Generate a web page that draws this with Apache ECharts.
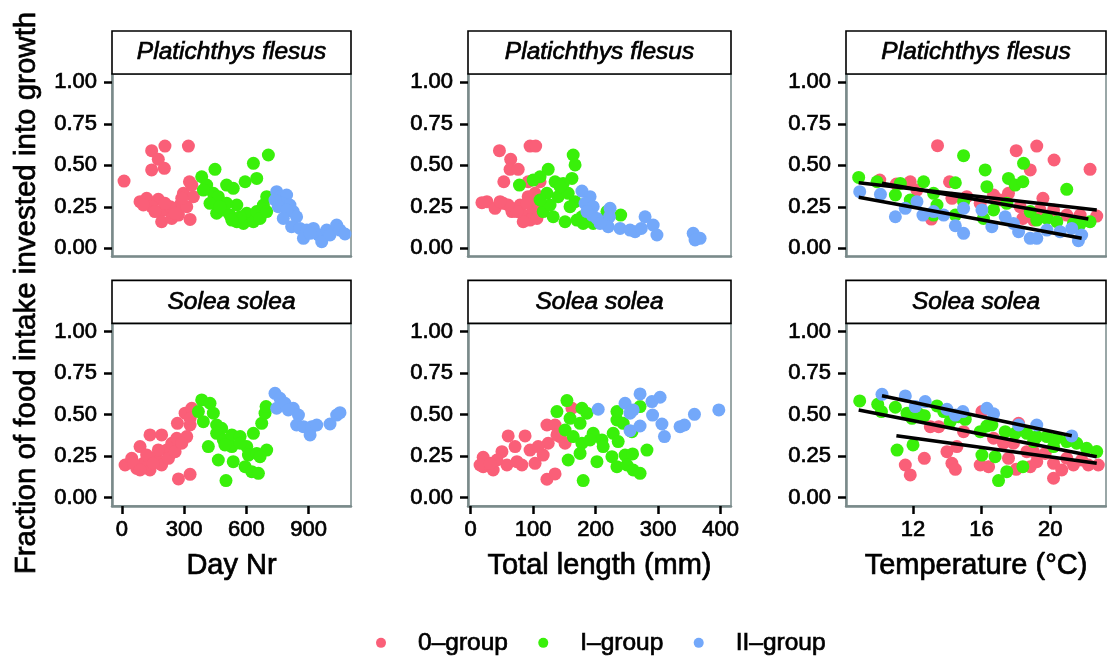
<!DOCTYPE html>
<html>
<head>
<meta charset="utf-8">
<script src="https://cdn.jsdelivr.net/npm/echarts@6/dist/echarts.min.js"></script>
<style>
html,body{margin:0;padding:0;background:#fff;}
#chart{width:1107px;height:657px;}
</style>
</head>
<body>
<div id="chart"></div>
<script>
// ---------------- DATA ----------------
const groups = ['0–group', 'I–group', 'II–group'];
const species = ['Platichthys flesus', 'Solea solea'];
const xTitles = ['Day Nr', 'Total length (mm)', 'Temperature (°C)'];
const yTitle = 'Fraction of food intake invested into growth';
const yTicks = [0, 0.25, 0.5, 0.75, 1];
const dayTicks = [0, 300, 600, 900];
const lengthTicks = [0, 100, 200, 300, 400];
const tempTicks = [12, 16, 20];

// Platichthys flesus – Day Nr
const pfDay0 = [[11,0.405],[144,0.588],[208,0.616],[321,0.616],[176,0.536],[144,0.472],[205,0.482],[326,0.401],[297,0.331],[88,0.281],[120,0.301],[176,0.295],[144,0.251],[184,0.221],[217,0.231],[192,0.160],[241,0.180],[281,0.261],[273,0.200],[329,0.174],[313,0.251],[345,0.311],[104,0.261],[160,0.221],[233,0.251],[257,0.211],[208,0.271],[289,0.301],[337,0.381]];
const pfDay1 = [[385,0.431],[449,0.476],[409,0.381],[441,0.331],[393,0.351],[465,0.311],[505,0.381],[537,0.361],[457,0.211],[489,0.231],[521,0.200],[554,0.261],[554,0.160],[586,0.150],[602,0.211],[634,0.160],[650,0.221],[682,0.261],[698,0.311],[706,0.562],[634,0.512],[594,0.401],[650,0.421],[570,0.190],[505,0.271],[425,0.271],[666,0.180],[698,0.221],[473,0.251],[530,0.170]];
const pfDay2 = [[746,0.341],[762,0.311],[794,0.321],[770,0.271],[810,0.261],[826,0.221],[842,0.190],[818,0.130],[858,0.120],[891,0.110],[875,0.060],[923,0.120],[947,0.080],[963,0.040],[987,0.110],[1003,0.080],[1035,0.140],[1051,0.110],[1075,0.086],[738,0.291],[754,0.251],[794,0.231],[778,0.180],[907,0.090]];

// Platichthys flesus – Total length
const pfLen0 = [[46,0.588],[64,0.536],[95,0.616],[104,0.616],[63,0.476],[76,0.476],[53,0.401],[92,0.401],[111,0.401],[26,0.281],[18,0.275],[39,0.241],[52,0.271],[66,0.221],[79,0.261],[84,0.200],[92,0.311],[100,0.231],[95,0.170],[84,0.160],[106,0.180],[74,0.221],[60,0.261],[108,0.271],[103,0.331],[90,0.271],[47,0.281]];
const pfLen1 = [[164,0.562],[167,0.502],[124,0.476],[78,0.381],[111,0.431],[100,0.411],[135,0.401],[162,0.421],[148,0.391],[122,0.331],[140,0.311],[156,0.331],[167,0.281],[116,0.221],[132,0.190],[151,0.160],[170,0.170],[180,0.150],[196,0.150],[215,0.180],[240,0.200],[218,0.221],[127,0.261],[159,0.251],[143,0.371],[111,0.291],[178,0.190]];
const pfLen2 = [[178,0.345],[191,0.311],[183,0.271],[196,0.251],[194,0.200],[202,0.180],[223,0.241],[222,0.190],[220,0.130],[239,0.120],[255,0.110],[263,0.100],[279,0.190],[273,0.120],[292,0.140],[298,0.080],[356,0.090],[367,0.060],[359,0.050],[186,0.221],[207,0.150]];

// Platichthys flesus – Temperature
const pfTemp0 = [[13.43,0.618],[10.06,0.411],[11.03,0.387],[11.84,0.401],[14.13,0.401],[14.27,0.301],[13.07,0.176],[15.92,0.271],[16.70,0.321],[17.57,0.331],[18.02,0.588],[18.84,0.472],[19.22,0.616],[20.23,0.532],[19.58,0.301],[18.41,0.180],[19.03,0.170],[20.2,0.231],[20.97,0.200],[21.75,0.200],[22.33,0.476],[22.72,0.194],[17.08,0.291],[18.25,0.251],[19.41,0.231],[15.14,0.311],[12.23,0.351]];
const pfTemp1 = [[8.83,0.427],[9.90,0.401],[10.97,0.321],[12.62,0.401],[11.84,0.291],[13.20,0.331],[14.95,0.558],[14.47,0.395],[13.40,0.261],[13.20,0.200],[14.47,0.200],[14.95,0.281],[16.21,0.472],[16.31,0.371],[16.11,0.180],[16.70,0.231],[17.57,0.421],[17.96,0.381],[18.45,0.512],[18.41,0.401],[18.84,0.221],[19.81,0.180],[20.39,0.160],[20.97,0.355],[21.36,0.150],[21.75,0.146],[22.33,0.160],[11.26,0.391],[17.47,0.271],[19.22,0.170]];
const pfTemp2 = [[8.89,0.341],[10.10,0.325],[10.97,0.190],[11.55,0.241],[12.23,0.281],[12.58,0.200],[13.79,0.200],[14.47,0.136],[14.95,0.090],[14.95,0.241],[16.60,0.130],[17.38,0.190],[18.16,0.100],[18.84,0.060],[19.22,0.060],[19.81,0.110],[20.58,0.100],[21.26,0.120],[21.65,0.046],[21.84,0.080],[16.02,0.231],[17.86,0.150],[13.20,0.221]];
const pfTempFits = [[[8.83,0.395],[22.72,0.231]],[[10.19,0.392],[22.23,0.177]],[[8.83,0.307],[21.84,0.060]]];

// Solea solea – Day Nr
const ssDay0 = [[16,0.197],[48,0.237],[88,0.308],[72,0.177],[104,0.207],[136,0.378],[136,0.167],[168,0.247],[192,0.378],[192,0.197],[217,0.288],[241,0.328],[265,0.358],[268,0.448],[305,0.509],[337,0.539],[329,0.438],[313,0.368],[273,0.113],[329,0.141],[56,0.207],[120,0.257],[152,0.207],[225,0.237],[257,0.277],[289,0.328],[176,0.288],[329,0.478],[88,0.167]];
const ssDay1 = [[385,0.589],[425,0.569],[369,0.519],[441,0.509],[393,0.458],[457,0.438],[481,0.418],[457,0.388],[489,0.348],[530,0.378],[530,0.308],[570,0.368],[602,0.308],[634,0.388],[610,0.257],[650,0.267],[674,0.448],[690,0.509],[695,0.549],[698,0.287],[417,0.308],[465,0.227],[537,0.217],[502,0.103],[594,0.187],[626,0.157],[658,0.147],[666,0.247],[570,0.328],[497,0.318]];
const ssDay2 = [[738,0.629],[762,0.599],[746,0.539],[786,0.569],[826,0.539],[851,0.498],[842,0.438],[875,0.428],[907,0.378],[915,0.428],[939,0.438],[1003,0.444],[1035,0.498],[1051,0.512],[802,0.529]];

// Solea solea – Total length
const ssLen0 = [[20,0.243],[20,0.187],[36,0.167],[60,0.372],[87,0.372],[71,0.308],[50,0.277],[58,0.197],[82,0.197],[95,0.287],[103,0.207],[116,0.257],[124,0.328],[122,0.438],[135,0.438],[143,0.368],[151,0.328],[122,0.111],[135,0.143],[162,0.539],[15,0.197],[42,0.227],[74,0.217],[108,0.308],[138,0.378],[31,0.207]];
const ssLen1 = [[154,0.585],[138,0.519],[178,0.539],[186,0.509],[159,0.478],[175,0.448],[151,0.408],[164,0.368],[178,0.328],[196,0.388],[210,0.348],[228,0.388],[234,0.468],[244,0.448],[234,0.519],[271,0.549],[258,0.398],[236,0.338],[156,0.227],[175,0.267],[202,0.217],[180,0.103],[226,0.247],[234,0.187],[247,0.257],[259,0.264],[250,0.197],[260,0.167],[271,0.147],[282,0.287],[212,0.308],[191,0.348]];
const ssLen2 = [[204,0.533],[247,0.569],[260,0.529],[255,0.509],[271,0.625],[290,0.579],[303,0.605],[291,0.498],[255,0.404],[271,0.432],[306,0.444],[310,0.368],[335,0.428],[342,0.438],[358,0.502],[397,0.529]];

// Solea solea – Temperature
const ssTemp0 = [[11.55,0.197],[11.84,0.137],[12.66,0.237],[13.01,0.428],[13.50,0.428],[13.98,0.277],[14.27,0.207],[14.47,0.171],[14.56,0.308],[14.95,0.398],[16.02,0.519],[15.92,0.197],[16.41,0.187],[16.70,0.358],[17.28,0.328],[17.57,0.237],[18.02,0.171],[18.16,0.448],[18.64,0.277],[18.84,0.187],[19.22,0.217],[19.71,0.267],[20.2,0.117],[20.2,0.207],[20.68,0.167],[20.97,0.237],[21.36,0.197],[21.84,0.227],[22.23,0.197],[22.81,0.197],[17.86,0.328],[19.03,0.277]];
const ssTemp1 = [[8.89,0.583],[9.94,0.563],[10.16,0.519],[10.97,0.545],[11.65,0.509],[11.94,0.478],[12.33,0.505],[12.66,0.494],[13.40,0.553],[13.79,0.519],[14.17,0.458],[14.66,0.488],[15.05,0.472],[15.92,0.398],[16.31,0.432],[16.60,0.438],[17.38,0.398],[17.96,0.388],[18.64,0.388],[19.22,0.368],[19.81,0.368],[20.39,0.358],[20.97,0.338],[21.55,0.328],[22.13,0.298],[22.72,0.278],[11.07,0.287],[12.0,0.318],[16.02,0.257],[16.79,0.247],[17.47,0.157],[16.99,0.103],[18.41,0.187],[19.03,0.338],[20.2,0.308]];
const ssTemp2 = [[10.19,0.623],[11.55,0.613],[12.13,0.549],[12.71,0.579],[13.98,0.533],[14.91,0.519],[16.31,0.539],[16.70,0.505],[18.16,0.438],[19.22,0.438],[21.26,0.372],[14.47,0.498]];
const ssTempFits = [[[10.19,0.614],[21.26,0.373]],[[8.83,0.528],[22.72,0.247]],[[11.03,0.373],[22.72,0.207]]];

// ---------------- CHART ----------------
const colors = ['#fa5f78', '#39f00a', '#73a8fa'];
const FONT = 'Liberation Sans, Arial, Helvetica, sans-serif';
const GRAY = '#7a8a8a';
const BOLDEN = {textBorderColor: '#000', textBorderWidth: 0.7};

const colLeft = [112, 468, 846];
const colRight = [351, 731, 1106];
const rowTop = [74, 323.4];
const panelH = 182.6;
const stripH = 43;
const xRanges = [[-47, 1104], [-4.3, 416.5], [8.09, 23.26]];
const xTickSets = [dayTicks, lengthTicks, tempTicks];

const panels = [
  [pfDay0, pfDay1, pfDay2], [pfLen0, pfLen1, pfLen2], [pfTemp0, pfTemp1, pfTemp2],
  [ssDay0, ssDay1, ssDay2], [ssLen0, ssLen1, ssLen2], [ssTemp0, ssTemp1, ssTemp2]
];
const fits = {2: pfTempFits, 5: ssTempFits};

const grid = [], xAxis = [], yAxis = [], series = [], graphic = [];
for (let r = 0; r < 2; r++) {
  for (let c = 0; c < 3; c++) {
    const i = r * 3 + c;
    grid.push({
      left: colLeft[c], top: rowTop[r], width: colRight[c] - colLeft[c], height: panelH,
      show: true, borderColor: GRAY, borderWidth: 1.5, backgroundColor: '#fff'
    });
    const bottom = r === 1;
    xAxis.push({
      type: 'value', gridIndex: i, min: xRanges[c][0], max: xRanges[c][1],
      name: bottom ? xTitles[c] : '', nameLocation: 'middle', nameGap: 45,
      nameTextStyle: Object.assign({fontFamily: FONT, fontSize: 29, color: '#000'}, BOLDEN),
      axisLine: {show: true, onZero: false, lineStyle: {color: GRAY, width: 2.5}},
      axisTick: {show: bottom, length: 8, lineStyle: {color: '#000', width: 2.5}, customValues: xTickSets[c]},
      axisLabel: Object.assign({show: bottom, customValues: xTickSets[c], fontFamily: FONT, fontSize: 22, color: '#000', margin: 13}, BOLDEN),
      splitLine: {show: false}
    });
    yAxis.push({
      type: 'value', gridIndex: i, min: -0.05, max: 1.05,
      axisLine: {show: true, onZero: false, lineStyle: {color: GRAY, width: 2.5}},
      axisTick: {show: true, length: 8, lineStyle: {color: '#000', width: 2.5}, customValues: yTicks},
      axisLabel: Object.assign({customValues: yTicks, formatter: v => v.toFixed(2), fontFamily: FONT, fontSize: 22, color: '#000', margin: 15}, BOLDEN),
      splitLine: {show: false}
    });
    for (let g = 0; g < 3; g++) {
      series.push({
        type: 'scatter', name: groups[g], xAxisIndex: i, yAxisIndex: i,
        data: panels[i][g], symbol: 'circle', symbolSize: 13,
        itemStyle: {color: colors[g], opacity: 1}, z: 2 + g
      });
    }
    if (fits[i]) {
      fits[i].forEach((seg, k) => {
        series.push({
          type: 'line', name: 'fit' + i + '_' + k, xAxisIndex: i, yAxisIndex: i,
          data: seg, symbol: 'none', lineStyle: {color: '#000', width: 3.5}, z: 10,
          silent: true
        });
      });
    }
    // strip
    graphic.push({
      type: 'rect', z: 100,
      shape: {x: colLeft[c], y: rowTop[r] - stripH, width: colRight[c] - colLeft[c], height: stripH},
      style: {fill: '#fff', stroke: '#000', lineWidth: 1.6}
    });
    graphic.push({
      type: 'text', z: 101,
      x: (colLeft[c] + colRight[c]) / 2, y: rowTop[r] - stripH / 2,
      style: {text: species[r], fontFamily: FONT, fontStyle: 'italic', fontSize: 24.5, fill: '#000',
              stroke: '#000', lineWidth: 0.7,
              textAlign: 'center', textVerticalAlign: 'middle'}
    });
  }
}
graphic.push({
  type: 'text', z: 101, x: 27, y: 293, rotation: Math.PI / 2,
  style: {text: yTitle, fontFamily: FONT, fontSize: 29.5, fill: '#000', stroke: '#000', lineWidth: 0.7,
          textAlign: 'center', textVerticalAlign: 'middle'}
});

const chart = echarts.init(document.getElementById('chart'), null, {renderer: 'canvas'});
chart.setOption({
  animation: false,
  backgroundColor: '#fff',
  grid, xAxis, yAxis, series, graphic,
  legend: {
    data: groups, left: 371, top: 625, icon: 'circle',
    itemWidth: 64, itemHeight: 10, itemGap: 30,
    textStyle: Object.assign({fontFamily: FONT, fontSize: 24.5, color: '#000'}, BOLDEN)
  }
});
</script>
</body>
</html>
